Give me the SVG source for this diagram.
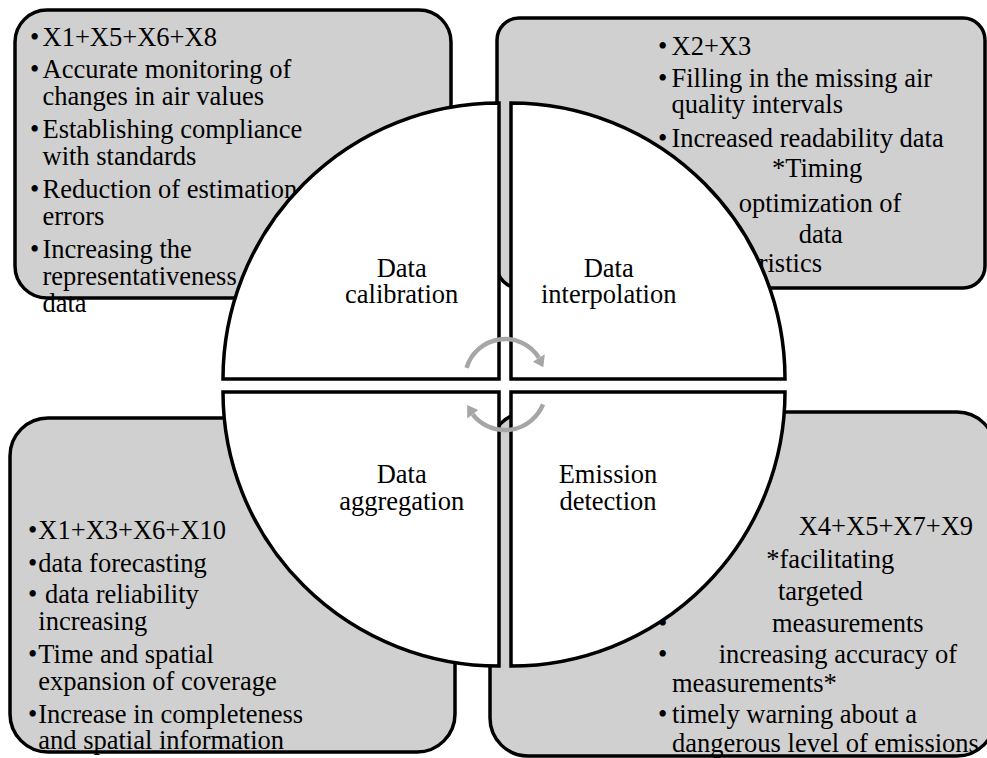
<svg xmlns="http://www.w3.org/2000/svg" width="987" height="758" viewBox="0 0 987 758">
  <style>
    .box { fill: #d0d0d0; stroke: #000; stroke-width: 3.5; }
    .quad { fill: #fff; stroke: #000; stroke-width: 3.5; stroke-linejoin: miter; }
    .t { font-family: "Liberation Serif", "Times New Roman", serif; font-size: 26.5px; fill: #000; }
    .c { text-anchor: middle; }
    .arc { fill: none; stroke: #a6a6a6; stroke-width: 4.5; }
    .head { fill: #a6a6a6; }
  </style>

  <!-- Outer benefit panels -->
  <g id="panel-calibration">
    <rect class="box" x="15" y="10" width="436" height="288" rx="32" ry="32"/>
    <text class="t" x="30" y="46">•</text><text class="t" x="42.5" y="46">X1+X5+X6+X8</text>
    <text class="t" x="30" y="78">•</text><text class="t" x="42.5" y="78">Accurate monitoring of</text>
    <text class="t" x="42.5" y="105">changes in air values</text>
    <text class="t" x="30" y="138">•</text><text class="t" x="42.5" y="138">Establishing compliance</text>
    <text class="t" x="42.5" y="165">with standards</text>
    <text class="t" x="30" y="198">•</text><text class="t" x="42.5" y="198">Reduction of estimation</text>
    <text class="t" x="42.5" y="225">errors</text>
    <text class="t" x="30" y="258">•</text><text class="t" x="42.5" y="258">Increasing the</text>
    <text class="t" x="42.5" y="285">representativeness</text>
    <text class="t" x="42.5" y="312">data</text>
  </g>

  <g id="panel-interpolation">
    <rect class="box" x="497" y="18" width="488" height="270" rx="22" ry="22"/>
    <text class="t" x="658" y="55">•</text><text class="t" x="671.5" y="55">X2+X3</text>
    <text class="t" x="658" y="87">•</text><text class="t" x="671.5" y="87">Filling in the missing air</text>
    <text class="t" x="671.5" y="113">quality intervals</text>
    <text class="t" x="658" y="146.5">•</text><text class="t" x="671.5" y="146.5">Increased readability data</text>
    <text class="t" x="772" y="177">*Timing</text>
    <text class="t" x="738.7" y="211.5">optimization of</text>
    <text class="t" x="798.7" y="243">data</text>
    <text class="t" x="822" y="271.5" text-anchor="end">ristics</text>
  </g>

  <g id="panel-aggregation">
    <rect class="box" x="10" y="418" width="445" height="334" rx="38" ry="38"/>
    <text class="t" x="28" y="539.3">•</text><text class="t" x="38.3" y="539.3">X1+X3+X6+X10</text>
    <text class="t" x="28" y="571.7">•</text><text class="t" x="38.3" y="571.7">data forecasting</text>
    <text class="t" x="28" y="603.3">•</text><text class="t" x="45" y="603.3">data reliability</text>
    <text class="t" x="38.3" y="630">increasing</text>
    <text class="t" x="28" y="663.3">•</text><text class="t" x="38.3" y="663.3">Time and spatial</text>
    <text class="t" x="38.3" y="690">expansion of coverage</text>
    <text class="t" x="28" y="722.7">•</text><text class="t" x="38.3" y="722.7">Increase in completeness</text>
    <text class="t" x="38.3" y="749.3">and spatial information</text>
  </g>

  <g id="panel-detection">
    <rect class="box" x="490" y="412" width="505" height="344" rx="38" ry="38"/>
    <text class="t" x="798.7" y="535">X4+X5+X7+X9</text>
    <text class="t" x="766.3" y="568.3">*facilitating</text>
    <text class="t" x="778" y="600">targeted</text>
    <text class="t" x="658" y="631.7">•</text><text class="t" x="772" y="631.7">measurements</text>
    <text class="t" x="658" y="663.3">•</text><text class="t" x="718.7" y="663.3">increasing accuracy of</text>
    <text class="t" x="672" y="691.7">measurements*</text>
    <text class="t" x="658" y="723.3">•</text><text class="t" x="672" y="723.3">timely warning about a</text>
    <text class="t" x="672" y="751.7">dangerous level of emissions</text>
  </g>

  <!-- Central quadrants -->
  <g id="node-calibration">
    <path class="quad" d="M499,379 H223 A276,276 0 0 1 499,103 Z"/>
    <text class="t c" x="401.7" y="276.7">Data</text>
    <text class="t c" x="401.7" y="303.3">calibration</text>
  </g>
  <g id="node-interpolation">
    <path class="quad" d="M511,379 V103 A274,276 0 0 1 785,379 Z"/>
    <text class="t c" x="608.7" y="276.7">Data</text>
    <text class="t c" x="608.7" y="303.3">interpolation</text>
  </g>
  <g id="node-aggregation">
    <path class="quad" d="M499,392 V666 A276,274 0 0 1 223,392 Z"/>
    <text class="t c" x="401.7" y="483.3">Data</text>
    <text class="t c" x="401.7" y="510">aggregation</text>
  </g>
  <g id="node-detection">
    <path class="quad" d="M511,392 H785 A274,274 0 0 1 511,666 Z"/>
    <text class="t c" x="608" y="483.3">Emission</text>
    <text class="t c" x="608" y="510">detection</text>
  </g>

  <!-- Cycle arrows -->
  <g id="connectors">
    <path class="arc" d="M466.55,367.97 A40,40 0 0 1 538.9,357.8"/>
    <polygon class="head" points="544.8,354.3 532.9,361.7 543.3,367.3"/>
    <path class="arc" d="M543,404.4 A41,41 0 0 1 472.7,414.3"/>
    <polygon class="head" points="467.2,418.6 478.2,410 467.2,405"/>
  </g>
</svg>
